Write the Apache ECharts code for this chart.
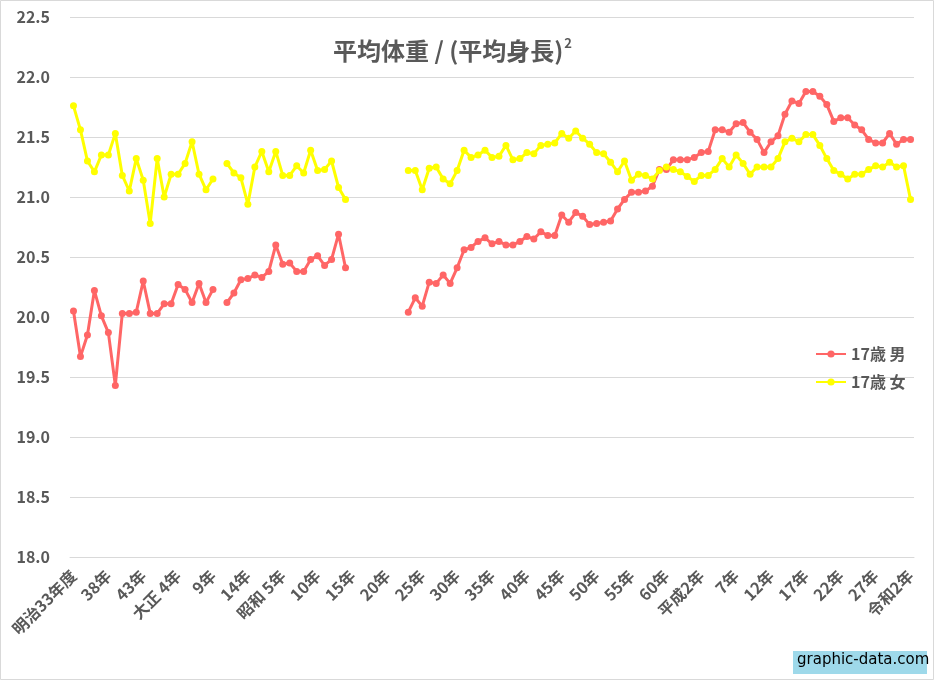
<!DOCTYPE html>
<html>
<head>
<meta charset="utf-8">
<script src="https://cdn.jsdelivr.net/npm/echarts@6/dist/echarts.min.js"></script>
<style>
html,body{margin:0;padding:0;background:#fff;}
#chart{width:934px;height:680px;}
</style>
</head>
<body>
<div id="chart"></div>
<script>
// Years 1900 (明治33年度) .. 2020 (令和2年)
var firstYear = 1900;
var lastYear = 2020;

// Tick labels shown every 5 years
var tickLabels = ['明治33年度','38年','43年','大正 4年','9年','14年','昭和 5年','10年','15年','20年','25年','30年','35年','40年','45年','50年','55年','60年','平成2年','7年','12年','17年','22年','27年','令和2年'];

// 17歳 男 (null = no data)
var male1900_1920 = [20.05,19.67,19.85,20.22,20.01,19.87,19.43,20.03,20.03,20.04,20.30,20.03,20.03,20.11,20.11,20.27,20.23,20.12,20.28,20.12,20.23];
var male1921 = [null];
var male1922_1939 = [20.12,20.20,20.31,20.32,20.35,20.33,20.38,20.60,20.44,20.45,20.38,20.38,20.48,20.51,20.43,20.48,20.69,20.41];
var male1940_1947 = [null,null,null,null,null,null,null,null];
var male1948_1969 = [20.04,20.16,20.09,20.29,20.28,20.35,20.28,20.41,20.56,20.58,20.63,20.66,20.61,20.63,20.60,20.60,20.63,20.67,20.65,20.71,20.68,20.68];
var male1970_1994 = [20.85,20.79,20.87,20.84,20.77,20.78,20.79,20.80,20.90,20.98,21.04,21.04,21.05,21.09,21.23,21.23,21.31,21.31,21.31,21.33,21.37,21.38,21.56,21.56,21.54];
var male1995_2020 = [21.61,21.62,21.54,21.48,21.37,21.46,21.51,21.69,21.80,21.78,21.88,21.88,21.84,21.77,21.63,21.66,21.66,21.60,21.56,21.48,21.45,21.45,21.53,21.44,21.48,21.48];

// 17歳 女
var female1900_1920 = [21.76,21.56,21.30,21.21,21.35,21.35,21.53,21.18,21.05,21.32,21.14,20.78,21.32,21.00,21.19,21.19,21.28,21.46,21.19,21.06,21.15];
var female1921 = [null];
var female1922_1939 = [21.28,21.20,21.16,20.94,21.25,21.38,21.21,21.38,21.18,21.18,21.26,21.20,21.39,21.22,21.23,21.30,21.08,20.98];
var female1940_1947 = [null,null,null,null,null,null,null,null];
var female1948_1969 = [21.22,21.22,21.06,21.24,21.25,21.15,21.11,21.22,21.39,21.33,21.35,21.39,21.33,21.34,21.43,21.31,21.32,21.37,21.36,21.43,21.44,21.45];
var female1970_1994 = [21.53,21.49,21.55,21.49,21.44,21.37,21.36,21.29,21.21,21.30,21.14,21.19,21.18,21.15,21.22,21.25,21.23,21.21,21.17,21.13,21.18,21.18,21.23,21.32,21.25];
var female1995_2020 = [21.35,21.28,21.19,21.25,21.25,21.25,21.32,21.46,21.49,21.46,21.52,21.52,21.43,21.32,21.22,21.19,21.15,21.19,21.19,21.23,21.26,21.25,21.29,21.25,21.26,20.98];

var male = [].concat(male1900_1920, male1921, male1922_1939, male1940_1947, male1948_1969, male1970_1994, male1995_2020);
var female = [].concat(female1900_1920, female1921, female1922_1939, female1940_1947, female1948_1969, female1970_1994, female1995_2020);

var categories = [];
for (var y = firstYear; y <= lastYear; y++) categories.push(String(y));

var font = '"Noto Sans CJK JP", "Noto Sans", sans-serif';
var textColor = '#595959';
var gridColor = '#d9d9d9';

var chart = echarts.init(document.getElementById('chart'), null, {renderer: 'canvas'});
chart.setOption({
  animation: false,
  backgroundColor: '#ffffff',
  title: {
    text: '{a|平均体重 / (平均身長)}{b|2}',
    left: 328,
    top: 28,
    textStyle: {
      fontFamily: font, fontSize: 24, fontWeight: 'bold', color: textColor,
      rich: {
        a: {fontFamily: font, fontSize: 24, fontWeight: 'bold', color: textColor, verticalAlign: 'bottom', lineHeight: 30},
        b: {fontFamily: font, fontSize: 13, fontWeight: 'bold', color: textColor, verticalAlign: 'top', lineHeight: 30, padding: [4, 0, 0, 1]}
      }
    }
  },
  legend: {
    orient: 'vertical',
    left: 810,
    top: 341,
    itemGap: 12,
    itemWidth: 30,
    itemHeight: 9,
    textStyle: {fontFamily: font, fontSize: 16, fontWeight: 'bold', color: textColor},
    data: ['17歳 男', '17歳 女']
  },
  grid: {left: 70, right: 20, top: 17, bottom: 123, containLabel: false},
  xAxis: {
    type: 'category',
    data: categories,
    boundaryGap: true,
    axisLine: {show: true, lineStyle: {color: gridColor}},
    axisTick: {show: false},
    splitLine: {show: false},
    axisLabel: {
      interval: 4,
      rotate: 45,
      margin: 16,
      fontFamily: font,
      fontSize: 16,
      fontWeight: 'bold',
      color: textColor,
      formatter: function (v, i) { return i % 5 === 0 ? tickLabels[i / 5] : ''; }
    }
  },
  yAxis: {
    type: 'value',
    min: 18,
    max: 22.5,
    interval: 0.5,
    axisLine: {show: false},
    axisTick: {show: false},
    splitLine: {lineStyle: {color: gridColor, width: 1}},
    axisLabel: {
      margin: 20,
      fontFamily: font,
      fontSize: 16,
      fontWeight: 'bold',
      color: textColor,
      formatter: function (v) { return v.toFixed(1); }
    }
  },
  series: [
    {
      name: '17歳 男',
      type: 'line',
      data: male,
      connectNulls: false,
      showSymbol: true,
      showAllSymbol: true,
      symbol: 'circle',
      symbolSize: 7,
      lineStyle: {width: 3, color: '#FF6666'},
      itemStyle: {color: '#FF6666'}
    },
    {
      name: '17歳 女',
      type: 'line',
      data: female,
      connectNulls: false,
      showSymbol: true,
      showAllSymbol: true,
      symbol: 'circle',
      symbolSize: 7,
      lineStyle: {width: 3, color: '#FFFF00'},
      itemStyle: {color: '#FFFF00'}
    }
  ],
  graphic: [
    {
      type: 'rect',
      z: -10,
      shape: {x: 0.5, y: 0.5, width: 933, height: 679},
      style: {fill: 'none', stroke: gridColor, lineWidth: 1}
    },
    {
      type: 'rect',
      z: 100,
      shape: {x: 793, y: 651, width: 134, height: 23},
      style: {fill: '#9ED9EA'}
    },
    {
      type: 'text',
      z: 101,
      left: 797,
      top: 653,
      style: {text: 'graphic-data.com', fill: '#000000', font: '15px "DejaVu Sans", sans-serif'}
    }
  ]
});
</script>
</body>
</html>
